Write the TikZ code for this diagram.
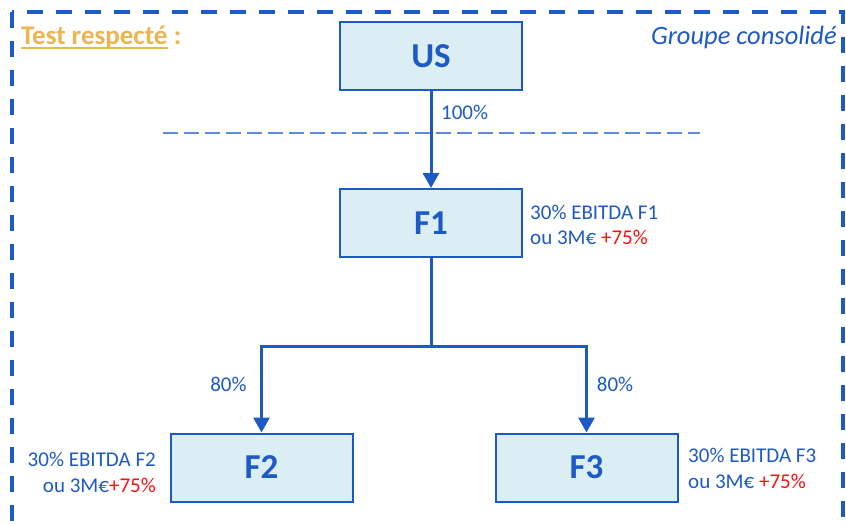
\documentclass[tikz,border=0pt]{standalone}
\usepackage{fontspec}
\setmainfont{Carlito}
\usetikzlibrary{arrows.meta}
\definecolor{cblue}{HTML}{1E5AC6}
\definecolor{boxfill}{HTML}{DAEEF4}
\definecolor{gold}{HTML}{EBB552}
\definecolor{seplight}{HTML}{5C8ED4}
\definecolor{accent}{HTML}{FF1010}
\begin{document}
\begin{tikzpicture}[x=1pt,y=-1pt,
  entity/.style={draw=cblue, line width=2pt, fill=boxfill, minimum width=182pt,
    minimum height=68pt, inner sep=0pt, text=cblue,
    font=\fontsize{35}{40}\selectfont\bfseries},
  link/.style={draw=cblue, line width=3pt, -{Triangle[width=16pt,length=15pt]}},
  trunk/.style={draw=cblue, line width=3pt},
  lbl/.style={text=cblue, font=\fontsize{21}{25}\selectfont, inner sep=0pt},
  heading/.style={inner sep=0pt, font=\fontsize{27}{30}\selectfont\bfseries, text=gold},
  frame/.style={draw=cblue, line width=4pt, dash pattern=on 16pt off 13pt},
  sepline/.style={draw=seplight, line width=2pt, dash pattern=on 15pt off 6pt}]
\useasboundingbox (0,0) rectangle (846,523);
\fill[white] (0,0) rectangle (846,523);

% consolidation perimeter
\begin{scope}
  \clip (0,0) rectangle (846,523);
  \draw[frame] (12,12) rectangle (843,545);
\end{scope}

% headings
\node[heading, anchor=base west] (test) at (21,44) {Test respecté};
\node[heading, anchor=base west] (colon) at ([xshift=6pt]test.base east) {:};
\draw[draw=gold, line width=1.6pt] ([yshift=-4pt]test.base west) -- ([yshift=-4pt]test.base east);
\node[anchor=base east, inner sep=0pt, text=cblue,
  font=\fontsize{26.5}{30}\selectfont\itshape] (perim) at (837,44)
  {Groupe consolidé};

% entities
\node[entity] (us) at (431,56) {US};
\node[entity] (f1) at (431,223) {F1};
\node[entity] (f2) at (261.5,467.5) {F2};
\node[entity] (f3) at (586.5,467.5) {F3};

% separator
\coordinate (sepL) at (163,133);
\coordinate (sepR) at (700,133);
\draw[sepline] (sepL) -- (sepR);

% ownership links
\draw[link] (us.south) -- (f1.north);
\draw[trunk] (f1.south) -- ++(0,88) coordinate (split);
\draw[link] (split) -| (f2.north);
\draw[link] (split) -| (f3.north);

% percentages
\node[lbl, anchor=base west] (p100) at (441,119) {100\%};
\node[lbl] (p80a) at (228.5,384) {80\%};
\node[lbl] (p80b) at (615,384) {80\%};

% thresholds
\node[lbl, anchor=base west] (f1a) at (530,219) {30\% EBITDA F1};
\node[lbl, anchor=base west] (f1b) at (530,244) {ou 3M€ \textcolor{accent}{+75\%}};
\node[lbl, anchor=base east] (f2a) at (156,466) {30\% EBITDA F2};
\node[lbl, anchor=base east] (f2b) at (156,492) {ou 3M€\textcolor{accent}{+75\%}};
\node[lbl, anchor=base west] (f3a) at (688,462) {30\% EBITDA F3};
\node[lbl, anchor=base west] (f3b) at (688,488) {ou 3M€ \textcolor{accent}{+75\%}};
\end{tikzpicture}
\end{document}
